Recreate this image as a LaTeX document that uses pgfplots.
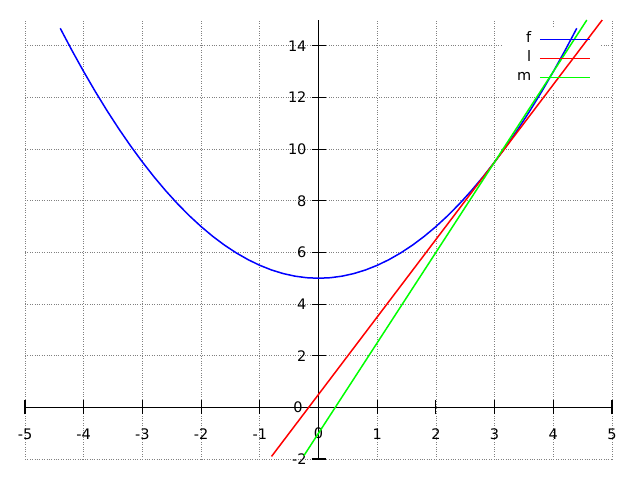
\documentclass[border=0pt]{standalone}
\usepackage{pgfplots}
\pgfplotsset{compat=1.18}
\usepackage{fontspec}
\setmainfont{DejaVu Sans}
\begin{document}
\fontsize{14.5bp}{17bp}\selectfont
\begin{tikzpicture}
\begin{axis}[
  scale only axis,
  width=587bp, height=439bp,
  xmin=-5, xmax=5, ymin=-2, ymax=15,
  axis lines=middle,
  axis line style={-, black, line width=1.1bp},
  xtick={-5,-4,...,5},
  ytick={-2,0,2,4,6,8,10,12,14},
  tick align=center,
  major tick length=14bp,
  tick style={black, line width=1.1bp},
  grid=major,
  major grid style={gray, dotted, line width=0.7bp},
  /pgf/number format/assume math mode=true,
  tick label style={font=\fontsize{14.5bp}{17bp}\selectfont},
  xticklabel style={anchor=center, yshift=-20bp},
  yticklabel style={anchor=east, xshift=0bp},
  clip=false,
  legend plot pos=right,
  legend cell align=right,
  legend style={at={(axis cs:4.64,14.556)}, anchor=north east, draw=none, fill=none, inner sep=0pt,
    row sep=3bp, column sep=6bp, font=\fontsize{14.5bp}{17bp}\selectfont,
    nodes={text height=9bp, text depth=3bp, inner sep=2bp}},
  legend image code/.code={\draw[#1] (0bp,0bp) -- (50bp,0bp);},
]
\path (rel axis cs:-0.0426,-0.0478) (rel axis cs:1.0477,1.0456);
\fill[white] (axis cs:3.15,12.3) rectangle (axis cs:4.8,14.7);
\node[anchor=center, yshift=-26bp] at (axis cs:0,0) {0};
\node[anchor=east, xshift=-11bp] at (axis cs:0,0) {0};
\addplot[blue, line width=1.5bp, no marks] coordinates {
(-4.4,14.68) (-4.2,13.82) (-4.0,13.00) (-3.8,12.22) (-3.6,11.48) (-3.4,10.78) (-3.2,10.12)
(-3.0,9.50) (-2.8,8.92) (-2.6,8.38) (-2.4,7.88) (-2.2,7.42) (-2.0,7.00) (-1.8,6.62)
(-1.6,6.28) (-1.4,5.98) (-1.2,5.72) (-1.0,5.50) (-0.8,5.32) (-0.6,5.18) (-0.4,5.08)
(-0.2,5.02) (0.0,5.00) (0.2,5.02) (0.4,5.08) (0.6,5.18) (0.8,5.32) (1.0,5.50)
(1.2,5.72) (1.4,5.98) (1.6,6.28) (1.8,6.62) (2.0,7.00) (2.2,7.42) (2.4,7.88)
(2.6,8.38) (2.8,8.92) (3.0,9.50) (3.2,10.12) (3.4,10.78) (3.6,11.48) (3.8,12.22)
(4.0,13.00) (4.2,13.82) (4.4,14.68)
};
\addlegendentry{f}
\addplot[red, line width=1.5bp, no marks] coordinates {(-0.8,-1.9) (4.833,15)};
\addlegendentry{l}
\addplot[green, line width=1.5bp, no marks] coordinates {(-0.25,-1.875) (4.571,15)};
\addlegendentry{m}
\end{axis}
\end{tikzpicture}
\end{document}
